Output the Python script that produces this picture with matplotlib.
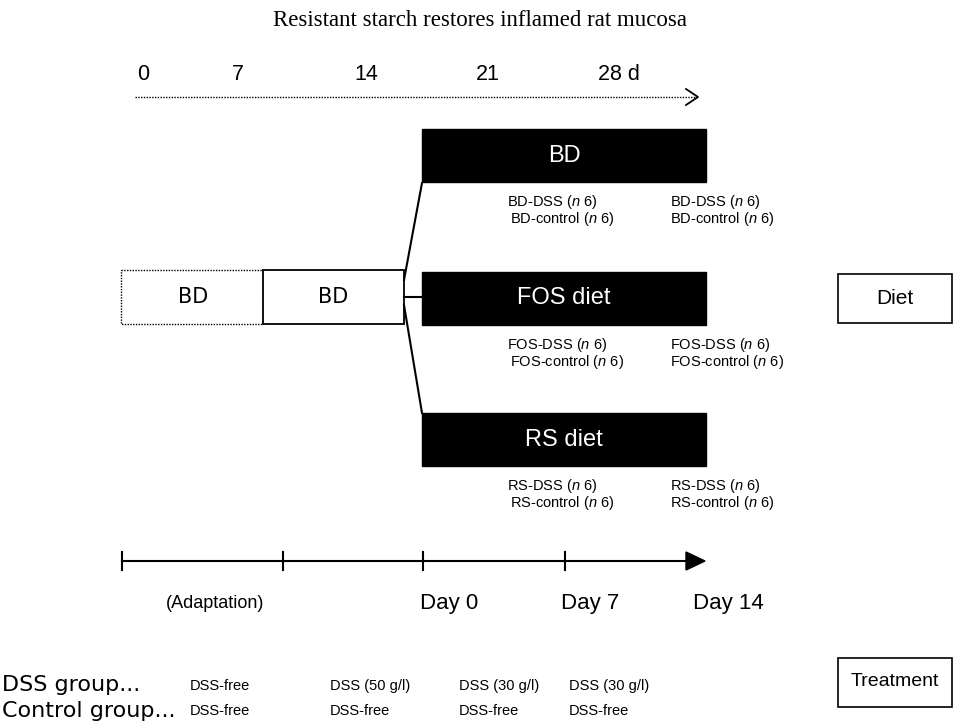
import matplotlib
matplotlib.use("Agg")
import matplotlib.pyplot as plt
from matplotlib.patches import Rectangle, Polygon

plt.rcParams['font.family'] = ['Liberation Sans', 'DejaVu Sans']
plt.rcParams['mathtext.fontset'] = 'custom'
plt.rcParams['mathtext.it'] = 'Liberation Sans:italic'
plt.rcParams['mathtext.rm'] = 'Liberation Sans'

# ---- data ----
title = "Resistant starch restores inflamed rat mucosa"
top_days = ["0", "7", "14", "21", "28 d"]
diets = ["BD", "FOS diet", "RS diet"]
group_prefix = ["BD", "FOS", "RS"]
n_per_group = [6, 6, 6]
adapt_labels = ["BD", "BD"]
bottom_labels = ["(Adaptation)", "Day 0", "Day 7", "Day 14"]
row_names = ["DSS group...", "Control group..."]
dss_row = ["DSS-free", "DSS (50 g/l)", "DSS (30 g/l)", "DSS (30 g/l)"]
ctrl_row = ["DSS-free", "DSS-free", "DSS-free", "DSS-free"]
legend_boxes = ["Diet", "Treatment"]

fig = plt.figure(figsize=(9.59, 7.22), dpi=100)
ax = fig.add_axes([0, 0, 1, 1])
ax.set_xlim(0, 959)
ax.set_ylim(722, 0)
ax.axis('off')

# title
ax.text(480, 20, title, ha='center', va='center', fontsize=16.5,
        family='Liberation Serif')

# top timeline
top_x = [143, 238, 366, 488, 610]
for x, lab in zip(top_x, top_days):
    if lab.endswith(" d"):
        ax.text(x - 12, 75, lab, ha='left', va='center', fontsize=15.5)
    else:
        ax.text(x, 75, lab, ha='center', va='center', fontsize=15.5)
ax.plot([135, 697], [97, 97], color='black', lw=1.0, ls=(0, (1, 1)))
ax.plot([686, 698, 686], [89, 97, 105], color='black', lw=1.3)

# diet boxes
box_y = [129, 272, 413]
box_h = 53
for y, d, pre, n in zip(box_y, diets, group_prefix, n_per_group):
    ax.add_patch(Rectangle((422, y), 284, box_h, facecolor='black', edgecolor='black'))
    ax.text(564, y + box_h / 2, d, ha='center', va='center', color='white', fontsize=17)
    ty = y + box_h + 20
    for cx in (507, 670):
        ax.text(cx, ty, f"{pre}-DSS ($\\mathit{{n}}$ {n})", ha='left', va='center', fontsize=10.5)
        ax.text(cx + (3 if cx == 507 else 0), ty + 17, f"{pre}-control ($\\mathit{{n}}$ {n})",
                ha='left', va='center', fontsize=10.5)

# adaptation boxes
ax.add_patch(Rectangle((121, 270), 142, 54, facecolor='white', edgecolor='black',
                       lw=1.0, ls=(0, (1, 1))))
ax.add_patch(Rectangle((263, 270), 141, 54, facecolor='white', edgecolor='black', lw=1.3))
ax.text(193, 297, adapt_labels[0], ha='center', va='center', fontsize=15, family='DejaVu Sans')
ax.text(333, 297, adapt_labels[1], ha='center', va='center', fontsize=15, family='DejaVu Sans')

# fan lines
ax.plot([404, 422], [280, 183], color='black', lw=1.5)
ax.plot([404, 422], [297, 297], color='black', lw=1.5)
ax.plot([404, 422], [305, 413], color='black', lw=1.5)

# legend boxes
ax.add_patch(Rectangle((838, 274), 114, 49, facecolor='white', edgecolor='black', lw=1.2))
ax.text(895, 298, legend_boxes[0], ha='center', va='center', fontsize=15)
ax.add_patch(Rectangle((838, 658), 114, 49, facecolor='white', edgecolor='black', lw=1.2))
ax.text(895, 682, legend_boxes[1], ha='center', va='center', fontsize=14)

# bottom timeline
tick_x = [122, 283, 423, 565]
ax.plot([122, 690], [561, 561], color='black', lw=1.5)
ax.add_patch(Polygon([[686, 552], [705, 561], [686, 570]], closed=True, color='black'))
for x in tick_x:
    ax.plot([x, x], [552, 570], color='black', lw=1.5)
bl_x = [215, 449, 590, 728]
bl_size = [13, 16, 16, 16]
for x, lab, s in zip(bl_x, bottom_labels, bl_size):
    ax.text(x, 603, lab, ha='center', va='center', fontsize=s)

# bottom rows
ax.text(2, 685, row_names[0], ha='left', va='center', fontsize=16, family='DejaVu Sans')
ax.text(2, 711, row_names[1], ha='left', va='center', fontsize=16, family='DejaVu Sans')
col_x = [190, 330, 459, 569]
for x, a, b in zip(col_x, dss_row, ctrl_row):
    ax.text(x, 686, a, ha='left', va='center', fontsize=10.5)
    ax.text(x, 711, b, ha='left', va='center', fontsize=10.5)

fig.savefig("out.png", dpi=100)
